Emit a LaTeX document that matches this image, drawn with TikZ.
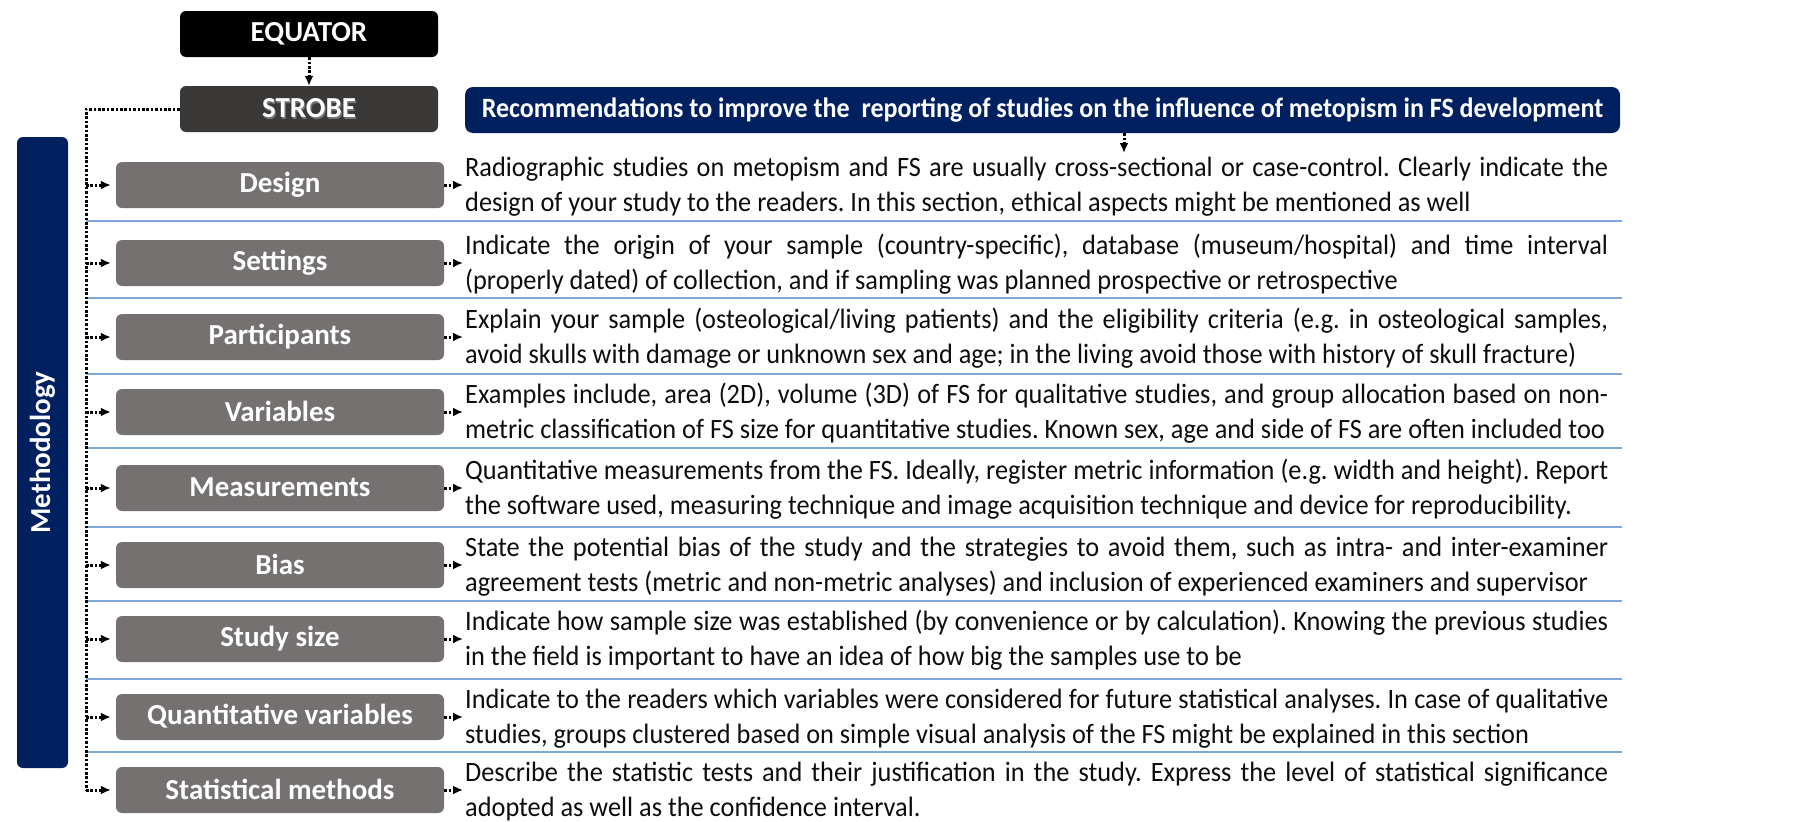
\documentclass[tikz,border=0pt]{standalone}
\usepackage{fontspec}
\setmainfont{Carlito}
\newfontfamily\bodyfont[FakeStretch=0.94]{Carlito}
\newfontfamily\titlefont[FakeStretch=0.93]{Carlito}
\usetikzlibrary{arrows.meta}
\definecolor{navy}{HTML}{002060}
\definecolor{boxgray}{HTML}{767171}
\definecolor{strobegray}{HTML}{3B3838}
\definecolor{sepblue}{HTML}{7FA8DA}
\definecolor{bodytext}{HTML}{0D0D0D}
\newcommand{\shtxt}[1]{\makebox[0pt][l]{\hspace{1.3pt}\raisebox{-1.3pt}{\textcolor{black!55}{#1}}}#1}
\newcommand{\desc}[2]{\vtop{\baselineskip=35.5pt\hbox to 1143pt{#1}\hbox{#2}}}
\tikzset{
  hdr/.style={rounded corners=6pt, minimum width=258pt, minimum height=46pt, inner sep=0pt,
    text=white, font=\fontsize{29}{30}\selectfont\bfseries},
  itembox/.style={fill=boxgray, rounded corners=6pt, minimum width=328pt, minimum height=46pt, inner sep=0pt,
    text=white, font=\fontsize{29}{30}\selectfont\bfseries},
  desctext/.style={anchor=base west, inner sep=0pt, text=bodytext,
    font=\bodyfont\fontsize{28}{35.5}\selectfont\frenchspacing},
  conn/.style={line width=3pt, dash pattern=on 2.6pt off 1.8pt},
  tip/.style={-{Latex[length=10pt,width=9pt]}},
  seprule/.style={draw=sepblue, line width=1.4pt}
}
\begin{document}
\begin{tikzpicture}[x=1pt,y=-1pt]
\useasboundingbox (0,0) rectangle (1805,822);
% header boxes
\node[hdr, fill=black] (equator) at (309,34) {EQUATOR};
\node[hdr, fill=strobegray] (strobe) at (309,109) {\shtxt{STROBE}};
\draw[conn, tip] (equator.south) -- (strobe.north);
% title
\node[fill=navy, rounded corners=8pt, minimum width=1155pt, minimum height=46pt, inner sep=0pt,
  text=white, font=\titlefont\fontsize{28}{30}\selectfont\bfseries] (title) at (1042.5,110)
  {Recommendations to improve the\ \ reporting of studies on the influence of metopism in FS development};
% methodology bar
\node[fill=navy, rounded corners=6pt, rotate=90, minimum width=631pt, minimum height=51pt, inner sep=0pt,
  text=white, font=\fontsize{29}{30}\selectfont\bfseries] (meth) at (42.5,452.5) {Methodology};
% separators
\foreach \yy in {221,298,374,448,527,601,679,752}
  \draw[seprule] (86,\yy) -- (1622,\yy);
% rows
\foreach \nm/\cy/\lab/\la/\lb in {
 design/185/Design/{Radiographic studies on metopism and FS are usually cross-sectional or case-control. Clearly indicate the}/{design of your study to the readers. In this section, ethical aspects might be mentioned as well},
 settings/263/Settings/{Indicate the origin of your sample (country-specific), database (museum/hospital) and time interval}/{(properly dated) of collection, and if sampling was planned prospective or retrospective},
 participants/337/Participants/{Explain your sample (osteological/living patients) and the eligibility criteria (e.g. in osteological samples,}/{avoid skulls with damage or unknown sex and age; in the living avoid those with history of skull fracture)},
 variables/412/Variables/{Examples include, area (2D), volume (3D) of FS for qualitative studies, and group allocation based on non-}/{metric classification of FS size for quantitative studies. Known sex, age and side of FS are often included too},
 measurements/488/Measurements/{Quantitative measurements from the FS. Ideally, register metric information (e.g. width and height). Report}/{the software used, measuring technique and image acquisition technique and device for reproducibility.},
 bias/565/Bias/{State the potential bias of the study and the strategies to avoid them, such as intra- and inter-examiner}/{agreement tests (metric and non-metric analyses) and inclusion of experienced examiners and supervisor},
 studysize/639/Study size/{Indicate how sample size was established (by convenience or by calculation). Knowing the previous studies}/{in the field is important to have an idea of how big the samples use to be},
 quant/717/Quantitative variables/{Indicate to the readers which variables were considered for future statistical analyses. In case of qualitative}/{studies, groups clustered based on simple visual analysis of the FS might be explained in this section},
 stat/790/Statistical methods/{Describe the statistic tests and their justification in the study. Express the level of statistical significance}/{adopted as well as the confidence interval.}}
{
  \node[itembox] (\nm) at (280,\cy) {\shtxt{\lab}};
  \node[desctext] (\nm-txt) at (465,\cy-9) {\desc{\la}{\lb}};
  \coordinate (\nm-rail) at (86,\cy);
  \draw[conn, tip, shorten >=5pt] (\nm-rail) -- (\nm.west);
  \draw[conn, tip, shorten >=2pt] (\nm.east) -- (\nm.east -| \nm-txt.west);
}
% rail from STROBE
\coordinate (railtop) at (86,109);
\draw[conn] (strobe.west) -- (railtop) -- (stat-rail);
% title drop arrow
\coordinate (tdrop) at (1124,153);
\draw[conn, tip] (title.south -| tdrop) -- (tdrop);
\end{tikzpicture}
\end{document}
